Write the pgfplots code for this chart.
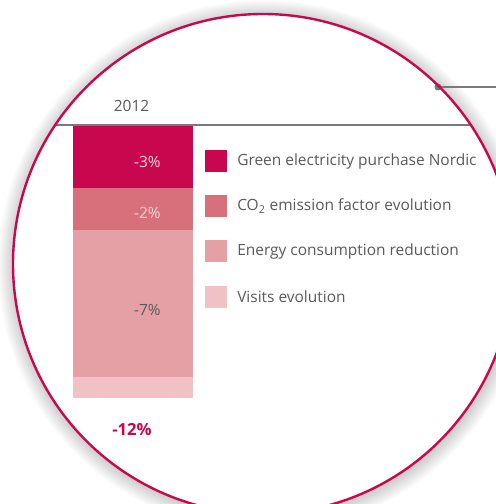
\documentclass[border=0pt]{standalone}
\usepackage{pgfplots}
\pgfplotsset{compat=1.18}
\usepackage{fontspec}
\setmainfont{Open Sans}
\definecolor{c1}{HTML}{C8074E}
\definecolor{c2}{HTML}{D8707C}
\definecolor{c3}{HTML}{E5A0A5}
\definecolor{c4}{HTML}{F0C2C5}
\definecolor{txt}{HTML}{5A5A5A}
\definecolor{ln}{HTML}{7A7A7A}
\begin{document}
\begin{tikzpicture}
\path[use as bounding box, clip] (0,0) rectangle (372pt,378pt);
\begin{scope}[x=0.75pt,y=-0.75pt,shift={(0,378pt)}]
  \foreach \k in {16,15,...,1} {\fill[black,opacity=0.011] (264,266) circle ({250+\k});}
  \fill[white] (263,264) circle (250);
\end{scope}
\begin{axis}[at={(0,0)},anchor=south west,scale only axis,width=372pt,height=378pt,
  xmin=0,xmax=496,ymin=-18.0476,ymax=5.95238,hide axis,
  ybar stacked,bar width=90pt,clip=false]
  \addplot[fill=c1,draw=none] coordinates {(133,-3)};
  \addplot[fill=c2,draw=none] coordinates {(133,-2)};
  \addplot[fill=c3,draw=none] coordinates {(133,-7)};
  \addplot[fill=c4,draw=none] coordinates {(133,-1)};
\end{axis}
\begin{scope}[x=0.75pt,y=-0.75pt,shift={(0,378pt)}]
  \draw[ln,line width=1.2pt] (55,125) -- (471,125);
  \draw[ln,line width=1.2pt] (438,87) -- (496,87);
  \fill[ln] (438,87) circle (3.5);
  \draw[c1,line width=1.8pt] (263,264) circle (250);
  \fontsize{11.6pt}{14pt}\selectfont
  \node[txt] at (131.5,106) {2012};
  \node[anchor=east,text=c4!60!white] at (166,162) {-3\%};
  \node[anchor=east,text=c4!70!white] at (166,213) {-2\%};
  \node[anchor=east,txt] at (166,310) {-7\%};
  \node[c1] at (132,430) {\fontsize{12.5pt}{14pt}\selectfont\bfseries -12\%};
  \foreach \y/\c/\t in {161/c1/Green electricity purchase Nordic,206/c2/CO\textsubscript{2} emission factor evolution,251/c3/Energy consumption reduction,297/c4/Visits evolution} {
    \fill[\c] (205,\y-11) rectangle (227,\y+11);
    \node[anchor=west,txt,inner sep=0pt] at (237,\y) {\t};
  }
\end{scope}
\end{tikzpicture}
\end{document}
